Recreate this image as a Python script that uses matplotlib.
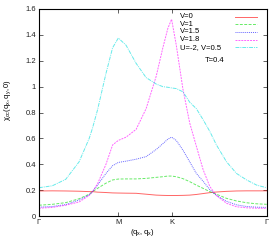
import matplotlib
matplotlib.use("Agg")
import matplotlib.pyplot as plt
from matplotlib.lines import Line2D

plt.rcParams["font.family"] = ["Liberation Sans", "DejaVu Sans"]
plt.rcParams["mathtext.default"] = "regular"

# path coordinate along Gamma -> M -> K -> Gamma (M = 1)
X = [0, 0.169, 0.338, 0.506, 0.633, 0.675, 0.738, 0.844, 0.928, 1.0,
     1.097, 1.224, 1.350, 1.477, 1.561, 1.624, 1.671, 1.730, 1.814, 1.899,
     1.983, 2.068, 2.152, 2.236, 2.363, 2.489, 2.616, 2.743, 2.869]
TICKS = [0, 1.0, 1.671, 2.869]
TICK_LABELS = ["\u0393", "M", "K", "\u0393"]

V0 = [0.195, 0.196, 0.195, 0.193, 0.19, 0.19, 0.186, 0.183, 0.18, 0.179,
      0.178, 0.177, 0.17, 0.163, 0.161, 0.16, 0.16, 0.16, 0.161, 0.163,
      0.168, 0.175, 0.182, 0.187, 0.192, 0.195, 0.196, 0.196, 0.196]
V1 = [0.085, 0.092, 0.105, 0.135, 0.17, 0.19, 0.215, 0.255, 0.28, 0.287,
      0.288, 0.288, 0.292, 0.30, 0.305, 0.31, 0.31, 0.305, 0.29, 0.267,
      0.24, 0.215, 0.19, 0.17, 0.138, 0.118, 0.104, 0.096, 0.092]
V15 = [0.07, 0.075, 0.09, 0.125, 0.165, 0.19, 0.24, 0.33, 0.39, 0.415,
       0.425, 0.44, 0.46, 0.515, 0.56, 0.595, 0.61, 0.585, 0.51, 0.42,
       0.33, 0.27, 0.205, 0.16, 0.115, 0.088, 0.075, 0.07, 0.068]
V18 = [0.062, 0.068, 0.085, 0.11, 0.16, 0.19, 0.25, 0.40, 0.55, 0.585,
       0.61, 0.67, 0.83, 1.08, 1.30, 1.45, 1.52, 1.32, 0.98, 0.72,
       0.54, 0.36, 0.23, 0.16, 0.10, 0.073, 0.065, 0.062, 0.061]
U2 = [0.22, 0.235, 0.285, 0.42, 0.60, 0.68, 0.82, 1.10, 1.30, 1.375,
      1.32, 1.18, 1.07, 1.02, 1.0, 0.995, 0.99, 0.985, 0.96, 0.88,
      0.83, 0.745, 0.655, 0.55, 0.42, 0.33, 0.28, 0.24, 0.22]

SERIES = [
    ("V=0", V0, "#ff0000", "-"),
    ("V=1", V1, "#00dd00", (0, (3, 1.5))),
    ("V=1.5", V15, "#0000ff", (0, (1, 1))),
    ("V=1.8", V18, "#ff00ff", (0, (2, 1))),
    ("U=-2, V=0.5", U2, "#00dddd", (0, (4, 1, 1, 1))),
]

W, H = 280, 240
fig = plt.figure(figsize=(W / 100, H / 100), dpi=100)
ax = fig.add_axes([0.139, 0.099, 0.8135, 0.864])
for lab, ys, col, ls in SERIES:
    ax.plot(X, ys, color=col, ls=ls, lw=0.7, alpha=0.6, label=lab)

ax.set_xlim(TICKS[0], TICKS[-1])
ax.set_ylim(0, 1.6)
ax.set_xticks(TICKS)
ax.set_xticklabels(TICK_LABELS)
yt = [0, 0.2, 0.4, 0.6, 0.8, 1.0, 1.2, 1.4, 1.6]
ax.set_yticks(yt)
ax.set_yticklabels(["0", "0.2", "0.4", "0.6", "0.8", "1", "1.2", "1.4", "1.6"])
ax.tick_params(direction="in", length=3, width=0.5, labelsize=5.5, pad=2,
               top=True, right=True, colors="#222222")
for s in ax.spines.values():
    s.set_linewidth(0.8)

# gnuplot-style key: labels left, samples right
for i, (lab, ys, col, ls) in enumerate(SERIES):
    yk = 1 - (16.7 + 7.6 * i) / H
    fig.text(180 / W, yk, lab, fontsize=5.5, ha="left", va="center")
    fig.add_artist(Line2D([235 / W, 257 / W], [yk, yk], transform=fig.transFigure,
                          color=col, ls=ls, lw=0.7, alpha=0.6))
fig.text(205 / W, 1 - 61 / H, "T=0.4", fontsize=5.5, ha="left", va="center")

fig.text(8 / W, 1 - 100 / H, r"$\chi_{cc}(q_x,q_y,0)$", rotation=90,
         fontsize=5.5, ha="center", va="center")
fig.text(142 / W, 1 - 232 / H, r"$(q_x,q_x)$", fontsize=5.5,
         ha="center", va="center")

fig.savefig("out.png", dpi=100)
